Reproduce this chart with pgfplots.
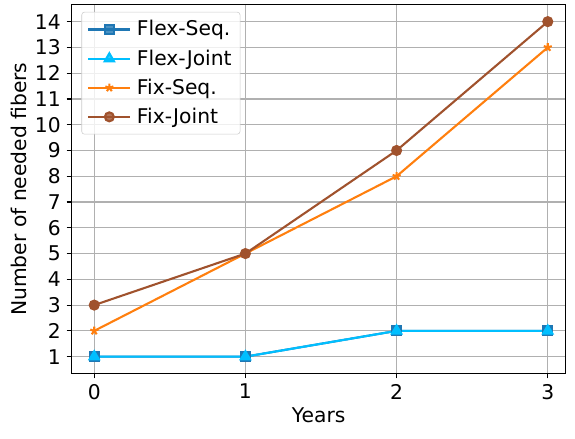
\documentclass[border=0pt,12pt]{standalone}
\usepackage{fontspec}
\setmainfont{DejaVu Sans}
\usepackage{pgfplots}
\pgfplotsset{compat=1.18}
\definecolor{c1}{HTML}{1F77B4}
\definecolor{c2}{HTML}{00BFFF}
\definecolor{c3}{HTML}{FF7F0E}
\definecolor{c4}{HTML}{A0522D}
\newcommand{\fs}{\fontsize{14.5}{17}\selectfont}
\begin{document}
\begin{tikzpicture}
\begin{axis}[
  width=353.5pt, height=263.5pt, scale only axis,
  xmin=-0.15, xmax=3.12, ymin=0.35, ymax=14.65,
  xtick={0,1,2,3}, ytick={1,2,...,14},
  /pgf/number format/assume math mode=true,
  tick label style={font=\fs},
  label style={font=\fs},
  xlabel={Years}, ylabel={Number of needed fibers},
  xlabel style={yshift=2pt},
  ylabel style={yshift=-2pt},
  xtick pos=left, ytick pos=left, tick align=outside,
  major tick length=3.5pt,
  every tick/.style={black, line width=0.8pt},
  axis line style={line width=0.8pt},
  grid=major, major grid style={color=black!31, line width=0.8pt},
  legend style={at={(0.02,0.981)}, anchor=north west, draw=black!20, rounded corners=2pt,
    font=\fs, fill=white, fill opacity=0.8, text opacity=1,
    inner xsep=4pt, inner ysep=4pt, row sep=4pt,
    /tikz/every odd column/.append style={column sep=2pt}},
  legend cell align=left,
  legend image code/.code={\draw[mark repeat=2,mark phase=2] plot coordinates {(0pt,0pt)(15pt,0pt)(30pt,0pt)};},
]
\addplot[color=c1, line width=1.5pt, mark=square*, mark size=3.2pt] coordinates {(0,1)(1,1)(2,2)(3,2)};
\addlegendentry{Flex-Seq.}
\addplot[color=c2, line width=1.5pt, mark=triangle*, mark size=3.8pt] coordinates {(0,1)(1,1)(2,2)(3,2)};
\addlegendentry{Flex-Joint}
\addplot[color=c3, line width=1.5pt, mark=star, mark size=3pt, mark options={line width=1.5pt}] coordinates {(0,2)(1,5)(2,8)(3,13)};
\addlegendentry{Fix-Seq.}
\addplot[color=c4, line width=1.5pt, mark=*, mark size=3.2pt] coordinates {(0,3)(1,5)(2,9)(3,14)};
\addlegendentry{Fix-Joint}
\end{axis}
\path ([shift={(6.5pt,3.5pt)}]current axis.north east);
\path ([shift={(-3.6pt,-7pt)}]current bounding box.south west);
\end{tikzpicture}
\end{document}
